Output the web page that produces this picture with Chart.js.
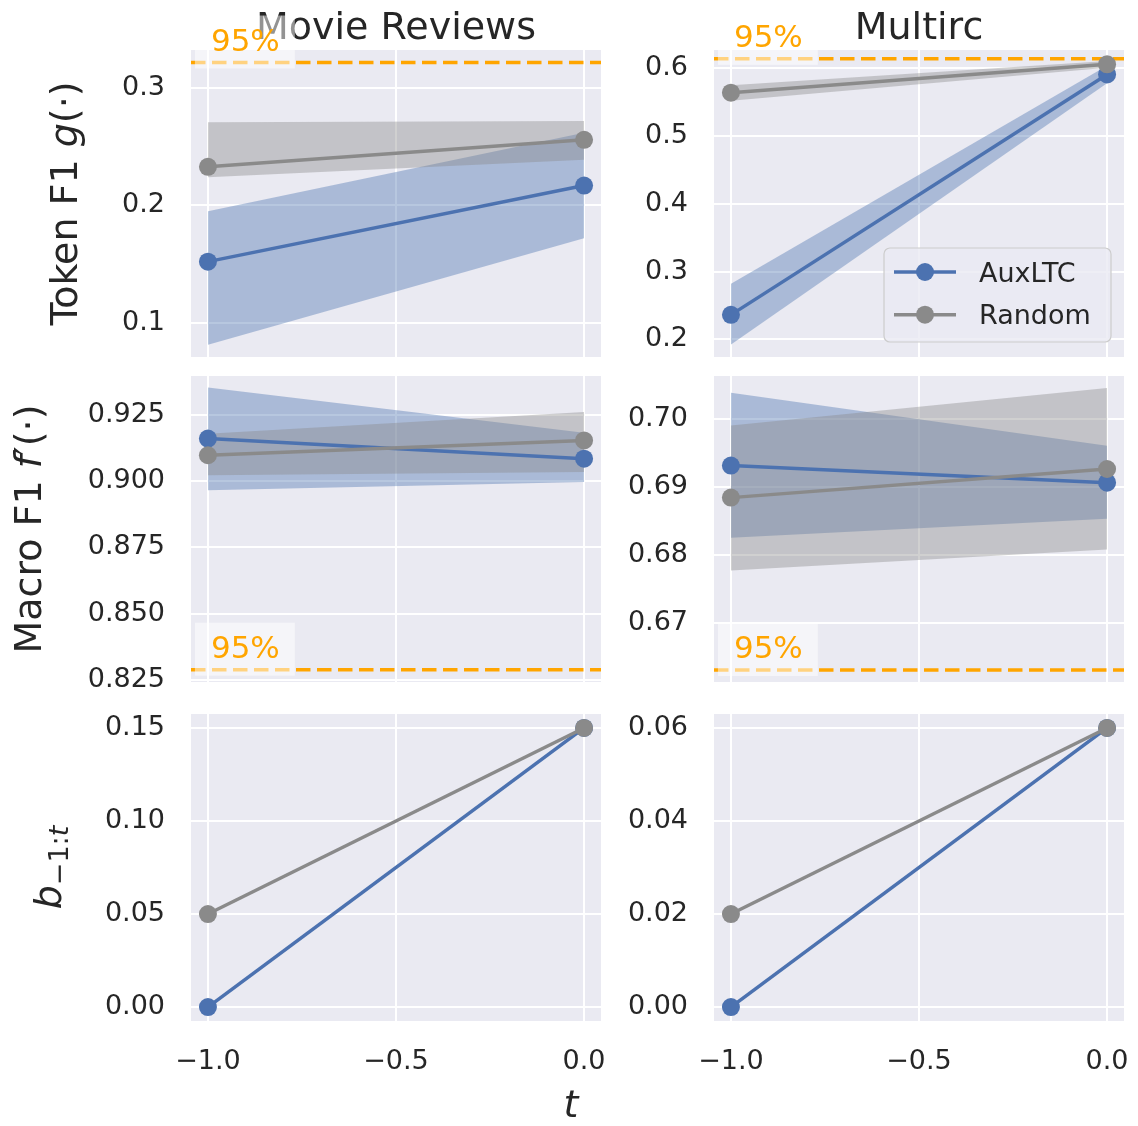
<!DOCTYPE html>
<html>
<head>
<meta charset="utf-8">
<script src="https://cdn.jsdelivr.net/npm/chart.js@4.4.1/dist/chart.umd.min.js"></script>
<style>
  html, body { margin: 0; padding: 0; background: #ffffff; }
  #fig { position: relative; width: 1138px; height: 1126px; overflow: hidden; }
  #fig canvas { position: absolute; left: 0; top: 0; }
</style>
</head>
<body>
<div id="fig"></div>
<script>
// ---- data ----
const tSteps = [-1.0, 0.0];
const seriesNames = ['AuxLTC', 'Random'];
const datasetTitles = ['Movie Reviews', 'Multirc'];

// Token F1 g(·)
const movieTokenAux      = [0.152, 0.217];
const movieTokenAuxLow   = [0.081, 0.172];
const movieTokenAuxHigh  = [0.195, 0.262];
const movieTokenRand     = [0.233, 0.256];
const movieTokenRandLow  = [0.224, 0.239];
const movieTokenRandHigh = [0.271, 0.272];

const multircTokenAux      = [0.236, 0.591];
const multircTokenAuxLow   = [0.192, 0.578];
const multircTokenAuxHigh  = [0.282, 0.604];
const multircTokenRand     = [0.564, 0.606];
const multircTokenRandLow  = [0.552, 0.601];
const multircTokenRandHigh = [0.575, 0.611];

// Macro F1 f'(·)
const movieMacroAux      = [0.9160, 0.9084];
const movieMacroAuxLow   = [0.8965, 0.8996];
const movieMacroAuxHigh  = [0.9352, 0.9182];
const movieMacroRand     = [0.9097, 0.9153];
const movieMacroRandLow  = [0.9022, 0.9034];
const movieMacroRandHigh = [0.9178, 0.9260];

const multircMacroAux      = [0.6931, 0.6906];
const multircMacroAuxLow   = [0.6825, 0.6853];
const multircMacroAuxHigh  = [0.7038, 0.6960];
const multircMacroRand     = [0.6884, 0.6926];
const multircMacroRandLow  = [0.6777, 0.6808];
const multircMacroRandHigh = [0.6990, 0.7045];

// b_{-1:t}
const movieBudgetAux  = [0.00, 0.15];
const movieBudgetRand = [0.05, 0.15];
const multircBudgetAux  = [0.00, 0.06];
const multircBudgetRand = [0.02, 0.06];

// 95% reference levels
const tokenThreshold = [0.322, 0.614];
const macroThreshold = [0.829, 0.6631];
const thresholdLabel = '95%';

// ---- ticks ----
const xTicks = [-1.0, -0.5, 0.0];
const xTickLabels = ['\u22121.0', '\u22120.5', '0.0'];
const movieTokenTicks = [0.1, 0.2, 0.3];
const movieTokenTickLabels = ['0.1', '0.2', '0.3'];
const multircTokenTicks = [0.2, 0.3, 0.4, 0.5, 0.6];
const multircTokenTickLabels = ['0.2', '0.3', '0.4', '0.5', '0.6'];
const movieMacroTicks = [0.825, 0.850, 0.875, 0.900, 0.925];
const movieMacroTickLabels = ['0.825', '0.850', '0.875', '0.900', '0.925'];
const multircMacroTicks = [0.67, 0.68, 0.69, 0.70];
const multircMacroTickLabels = ['0.67', '0.68', '0.69', '0.70'];
const movieBudgetTicks = [0.00, 0.05, 0.10, 0.15];
const movieBudgetTickLabels = ['0.00', '0.05', '0.10', '0.15'];
const multircBudgetTicks = [0.00, 0.02, 0.04, 0.06];
const multircBudgetTickLabels = ['0.00', '0.02', '0.04', '0.06'];

// ---- style & layout ----
const W = 1138, H = 1126;
const CANVAS_W = W + 120;   // extra room on the right so edge tick labels never squeeze a panel
const BLUE = '#4c72b0', GRAY = '#8a8a8a';
const BLUE_BAND = 'rgba(76,114,176,0.4)', GRAY_BAND = 'rgba(138,138,138,0.4)';
const ORANGE = '#ffa500', BG = '#eaeaf2', TEXT = '#262626';
const FONT = "'DejaVu Sans'";
const COLS = [[191, 601], [714, 1124]];
const ROWS = [[50, 357], [376, 682], [714, 1021]];
const Y_W = 150, X_H = 90;
const X_MIN = -1.045, X_MAX = 0.045;

Chart.defaults.font.family = FONT;
Chart.defaults.color = TEXT;

const rowLabels = [
  { baseX: 76.5, runs: [
    { text: 'Token F1 ', font: `38px ${FONT}` },
    { text: 'g', font: `italic 38px ${FONT}` },
    { text: '(\u00b7)', font: `38px ${FONT}` }] },
  { baseX: 41.3, runs: [
    { text: 'Macro F1 ', font: `38px ${FONT}` },
    { text: 'f', font: `italic 38px ${FONT}` },
    { text: '\u2032', font: `38px ${FONT}` },
    { text: '(\u00b7)', font: `38px ${FONT}` }] },
  { baseX: 61, runs: [
    { text: 'b', font: `italic 38px ${FONT}` },
    { text: '\u22121:', font: `27px ${FONT}`, dy: 7 },
    { text: 't', font: `italic 27px ${FONT}`, dy: 7 }] }
];

const panels = [
  { row: 0, col: 0, yMin: 0.0706, yMax: 0.3327, yTicks: movieTokenTicks, yTickLabels: movieTokenTickLabels,
    aux: movieTokenAux, auxLo: movieTokenAuxLow, auxHi: movieTokenAuxHigh,
    rand: movieTokenRand, randLo: movieTokenRandLow, randHi: movieTokenRandHigh, threshold: tokenThreshold[0] },
  { row: 0, col: 1, yMin: 0.1738, yMax: 0.6271, yTicks: multircTokenTicks, yTickLabels: multircTokenTickLabels,
    aux: multircTokenAux, auxLo: multircTokenAuxLow, auxHi: multircTokenAuxHigh,
    rand: multircTokenRand, randLo: multircTokenRandLow, randHi: multircTokenRandHigh, threshold: tokenThreshold[1], legend: true },
  { row: 1, col: 0, yMin: 0.82436, yMax: 0.93953, yTicks: movieMacroTicks, yTickLabels: movieMacroTickLabels,
    aux: movieMacroAux, auxLo: movieMacroAuxLow, auxHi: movieMacroAuxHigh,
    rand: movieMacroRand, randLo: movieMacroRandLow, randHi: movieMacroRandHigh, threshold: macroThreshold[0] },
  { row: 1, col: 1, yMin: 0.66134, yMax: 0.70625, yTicks: multircMacroTicks, yTickLabels: multircMacroTickLabels,
    aux: multircMacroAux, auxLo: multircMacroAuxLow, auxHi: multircMacroAuxHigh,
    rand: multircMacroRand, randLo: multircMacroRandLow, randHi: multircMacroRandHigh, threshold: macroThreshold[1] },
  { row: 2, col: 0, yMin: -0.0075, yMax: 0.1575, yTicks: movieBudgetTicks, yTickLabels: movieBudgetTickLabels,
    aux: movieBudgetAux, rand: movieBudgetRand, xLabel: true },
  { row: 2, col: 1, yMin: -0.003, yMax: 0.063, yTicks: multircBudgetTicks, yTickLabels: multircBudgetTickLabels,
    aux: multircBudgetAux, rand: multircBudgetRand }
];

function drawRuns(ctx, runs, cx, cy, rotate) {
  ctx.save();
  ctx.translate(cx, cy);
  if (rotate) ctx.rotate(-Math.PI / 2);
  let total = 0;
  const widths = runs.map(r => { ctx.font = r.font; const w = ctx.measureText(r.text).width; total += w; return w; });
  let x = -total / 2;
  ctx.fillStyle = TEXT;
  ctx.textAlign = 'left';
  ctx.textBaseline = 'alphabetic';
  runs.forEach((r, i) => { ctx.font = r.font; ctx.fillText(r.text, x, r.dy || 0); x += widths[i]; });
  ctx.restore();
}

function roundRect(ctx, x, y, w, h, r) {
  ctx.beginPath();
  ctx.moveTo(x + r, y);
  ctx.lineTo(x + w - r, y);
  ctx.arcTo(x + w, y, x + w, y + r, r);
  ctx.lineTo(x + w, y + h - r);
  ctx.arcTo(x + w, y + h, x + w - r, y + h, r);
  ctx.lineTo(x + r, y + h);
  ctx.arcTo(x, y + h, x, y + h - r, r);
  ctx.lineTo(x, y + r);
  ctx.arcTo(x, y, x + r, y, r);
  ctx.closePath();
}

function makePanel(p) {
  const fig = document.getElementById('fig');
  const cv = document.createElement('canvas');
  cv.width = CANVAS_W; cv.height = H;
  cv.style.width = CANVAS_W + 'px'; cv.style.height = H + 'px';
  fig.appendChild(cv);

  const [left, right] = COLS[p.col];
  const [top, bottom] = ROWS[p.row];
  const bottomRow = p.row === 2;
  const xh = bottomRow ? X_H : 0;

  const pts = ys => tSteps.map((x, i) => ({ x: x, y: ys[i] }));
  const lineDs = (label, ys, color) => ({
    label: label, data: pts(ys), borderColor: color, backgroundColor: color,
    borderWidth: 3.5, pointRadius: 9, pointHoverRadius: 9, pointBorderWidth: 0,
    pointBackgroundColor: color, fill: false, tension: 0
  });
  const bandDs = (ys, color, fillNext) => ({
    label: '', data: pts(ys), borderColor: 'transparent', borderWidth: 0,
    pointRadius: 0, pointHoverRadius: 0, backgroundColor: color,
    fill: fillNext ? '+1' : false, tension: 0
  });

  // later datasets are painted first: blue band, gray band, blue line, gray line
  const datasets = [lineDs(seriesNames[1], p.rand, GRAY), lineDs(seriesNames[0], p.aux, BLUE)];
  if (p.randLo) {
    datasets.push(bandDs(p.randHi, GRAY_BAND, true), bandDs(p.randLo, GRAY_BAND, false),
                  bandDs(p.auxHi, BLUE_BAND, true), bandDs(p.auxLo, BLUE_BAND, false));
  }

  const decor = {
    id: 'decor' + p.row + p.col,
    beforeDraw(chart) {
      const a = chart.chartArea, ctx = chart.ctx;
      ctx.save();
      ctx.fillStyle = BG;
      ctx.fillRect(a.left, a.top, a.right - a.left, a.bottom - a.top);
      ctx.restore();
    },
    beforeDatasetsDraw(chart) {
      const a = chart.chartArea, ctx = chart.ctx;
      if (p.row === 0) {
        ctx.save();
        ctx.font = `38px ${FONT}`;
        ctx.fillStyle = TEXT;
        ctx.textAlign = 'center';
        ctx.textBaseline = 'alphabetic';
        ctx.fillText(datasetTitles[p.col], (a.left + a.right) / 2, a.top - 11);
        ctx.restore();
      }
      if (p.threshold !== undefined) {
        const y = chart.scales.y.getPixelForValue(p.threshold);
        ctx.save();
        ctx.strokeStyle = ORANGE;
        ctx.lineWidth = 3.5;
        ctx.setLineDash([14.5, 6.5]);
        ctx.beginPath();
        ctx.moveTo(a.left, y);
        ctx.lineTo(a.right, y);
        ctx.stroke();
        ctx.restore();
      }
    },
    afterDatasetsDraw(chart) {
      if (p.threshold === undefined) return;
      const ctx = chart.ctx;
      const y = chart.scales.y.getPixelForValue(p.threshold);
      const x0 = chart.scales.x.getPixelForValue(tSteps[0]) + 3;
      const base = y - 12;
      ctx.save();
      ctx.font = `31px ${FONT}`;
      const tw = ctx.measureText(thresholdLabel).width;
      ctx.fillStyle = 'rgba(255,255,255,0.5)';
      ctx.fillRect(x0 - 16, base - 35, tw + 31, 53);
      ctx.fillStyle = ORANGE;
      ctx.textAlign = 'left';
      ctx.textBaseline = 'alphabetic';
      ctx.fillText(thresholdLabel, x0, base);
      ctx.restore();
    },
    afterDraw(chart) {
      const a = chart.chartArea, ctx = chart.ctx;
      if (p.col === 0) {
        const lab = rowLabels[p.row];
        drawRuns(ctx, lab.runs, lab.baseX, (a.top + a.bottom) / 2, true);
      }
      if (p.xLabel) {
        drawRuns(ctx, [{ text: 't', font: `italic 38px ${FONT}` }], W / 2 + 2, a.bottom + 96, false);
      }
      if (p.legend) {
        const bx = a.right - 240, by = a.bottom - 109, bw = 227, bh = 94;
        ctx.save();
        roundRect(ctx, bx, by, bw, bh, 6);
        ctx.fillStyle = 'rgba(234,234,242,0.8)';
        ctx.fill();
        ctx.strokeStyle = '#cccccc';
        ctx.lineWidth = 1.2;
        ctx.stroke();
        const entries = [[seriesNames[0], BLUE], [seriesNames[1], GRAY]];
        entries.forEach(([name, color], i) => {
          const cy = by + 24 + i * 42.7;
          ctx.strokeStyle = color;
          ctx.lineWidth = 3.5;
          ctx.setLineDash([]);
          ctx.beginPath();
          ctx.moveTo(bx + 10, cy);
          ctx.lineTo(bx + 72, cy);
          ctx.stroke();
          ctx.fillStyle = color;
          ctx.beginPath();
          ctx.arc(bx + 41, cy, 9, 0, Math.PI * 2);
          ctx.fill();
          ctx.fillStyle = TEXT;
          ctx.font = `27px ${FONT}`;
          ctx.textAlign = 'left';
          ctx.textBaseline = 'alphabetic';
          ctx.fillText(name, bx + 95, cy + 9.6);
        });
        ctx.restore();
      }
    }
  };

  return new Chart(cv, {
    type: 'line',
    data: { datasets: datasets },
    options: {
      responsive: false,
      animation: false,
      events: [],
      devicePixelRatio: 1,
      layout: {
        autoPadding: false,
        padding: { left: left - Y_W, right: CANVAS_W - right, top: top, bottom: H - bottom - xh }
      },
      plugins: { legend: { display: false }, tooltip: { enabled: false }, title: { display: false } },
      scales: {
        x: {
          type: 'linear', min: X_MIN, max: X_MAX, bounds: 'data',
          afterBuildTicks: s => { s.ticks = xTicks.map(v => ({ value: v })); },
          afterFit: s => { s.height = xh; },
          grid: { color: '#ffffff', lineWidth: 2, drawTicks: false },
          border: { display: false },
          ticks: {
            display: bottomRow, autoSkip: false, maxRotation: 0, padding: 25,
            font: { size: 27, family: FONT }, color: TEXT,
            callback: (v, i) => xTickLabels[i]
          }
        },
        y: {
          type: 'linear', position: 'left', min: p.yMin, max: p.yMax, bounds: 'data',
          afterBuildTicks: s => { s.ticks = p.yTicks.map(v => ({ value: v })); },
          afterFit: s => { s.width = Y_W; },
          grid: { color: '#ffffff', lineWidth: 2, drawTicks: false },
          border: { display: false },
          ticks: {
            autoSkip: false, padding: 26,
            font: { size: 27, family: FONT }, color: TEXT,
            callback: (v, i) => p.yTickLabels[i]
          }
        }
      }
    },
    plugins: [decor]
  });
}

panels.forEach(makePanel);
</script>
</body>
</html>
